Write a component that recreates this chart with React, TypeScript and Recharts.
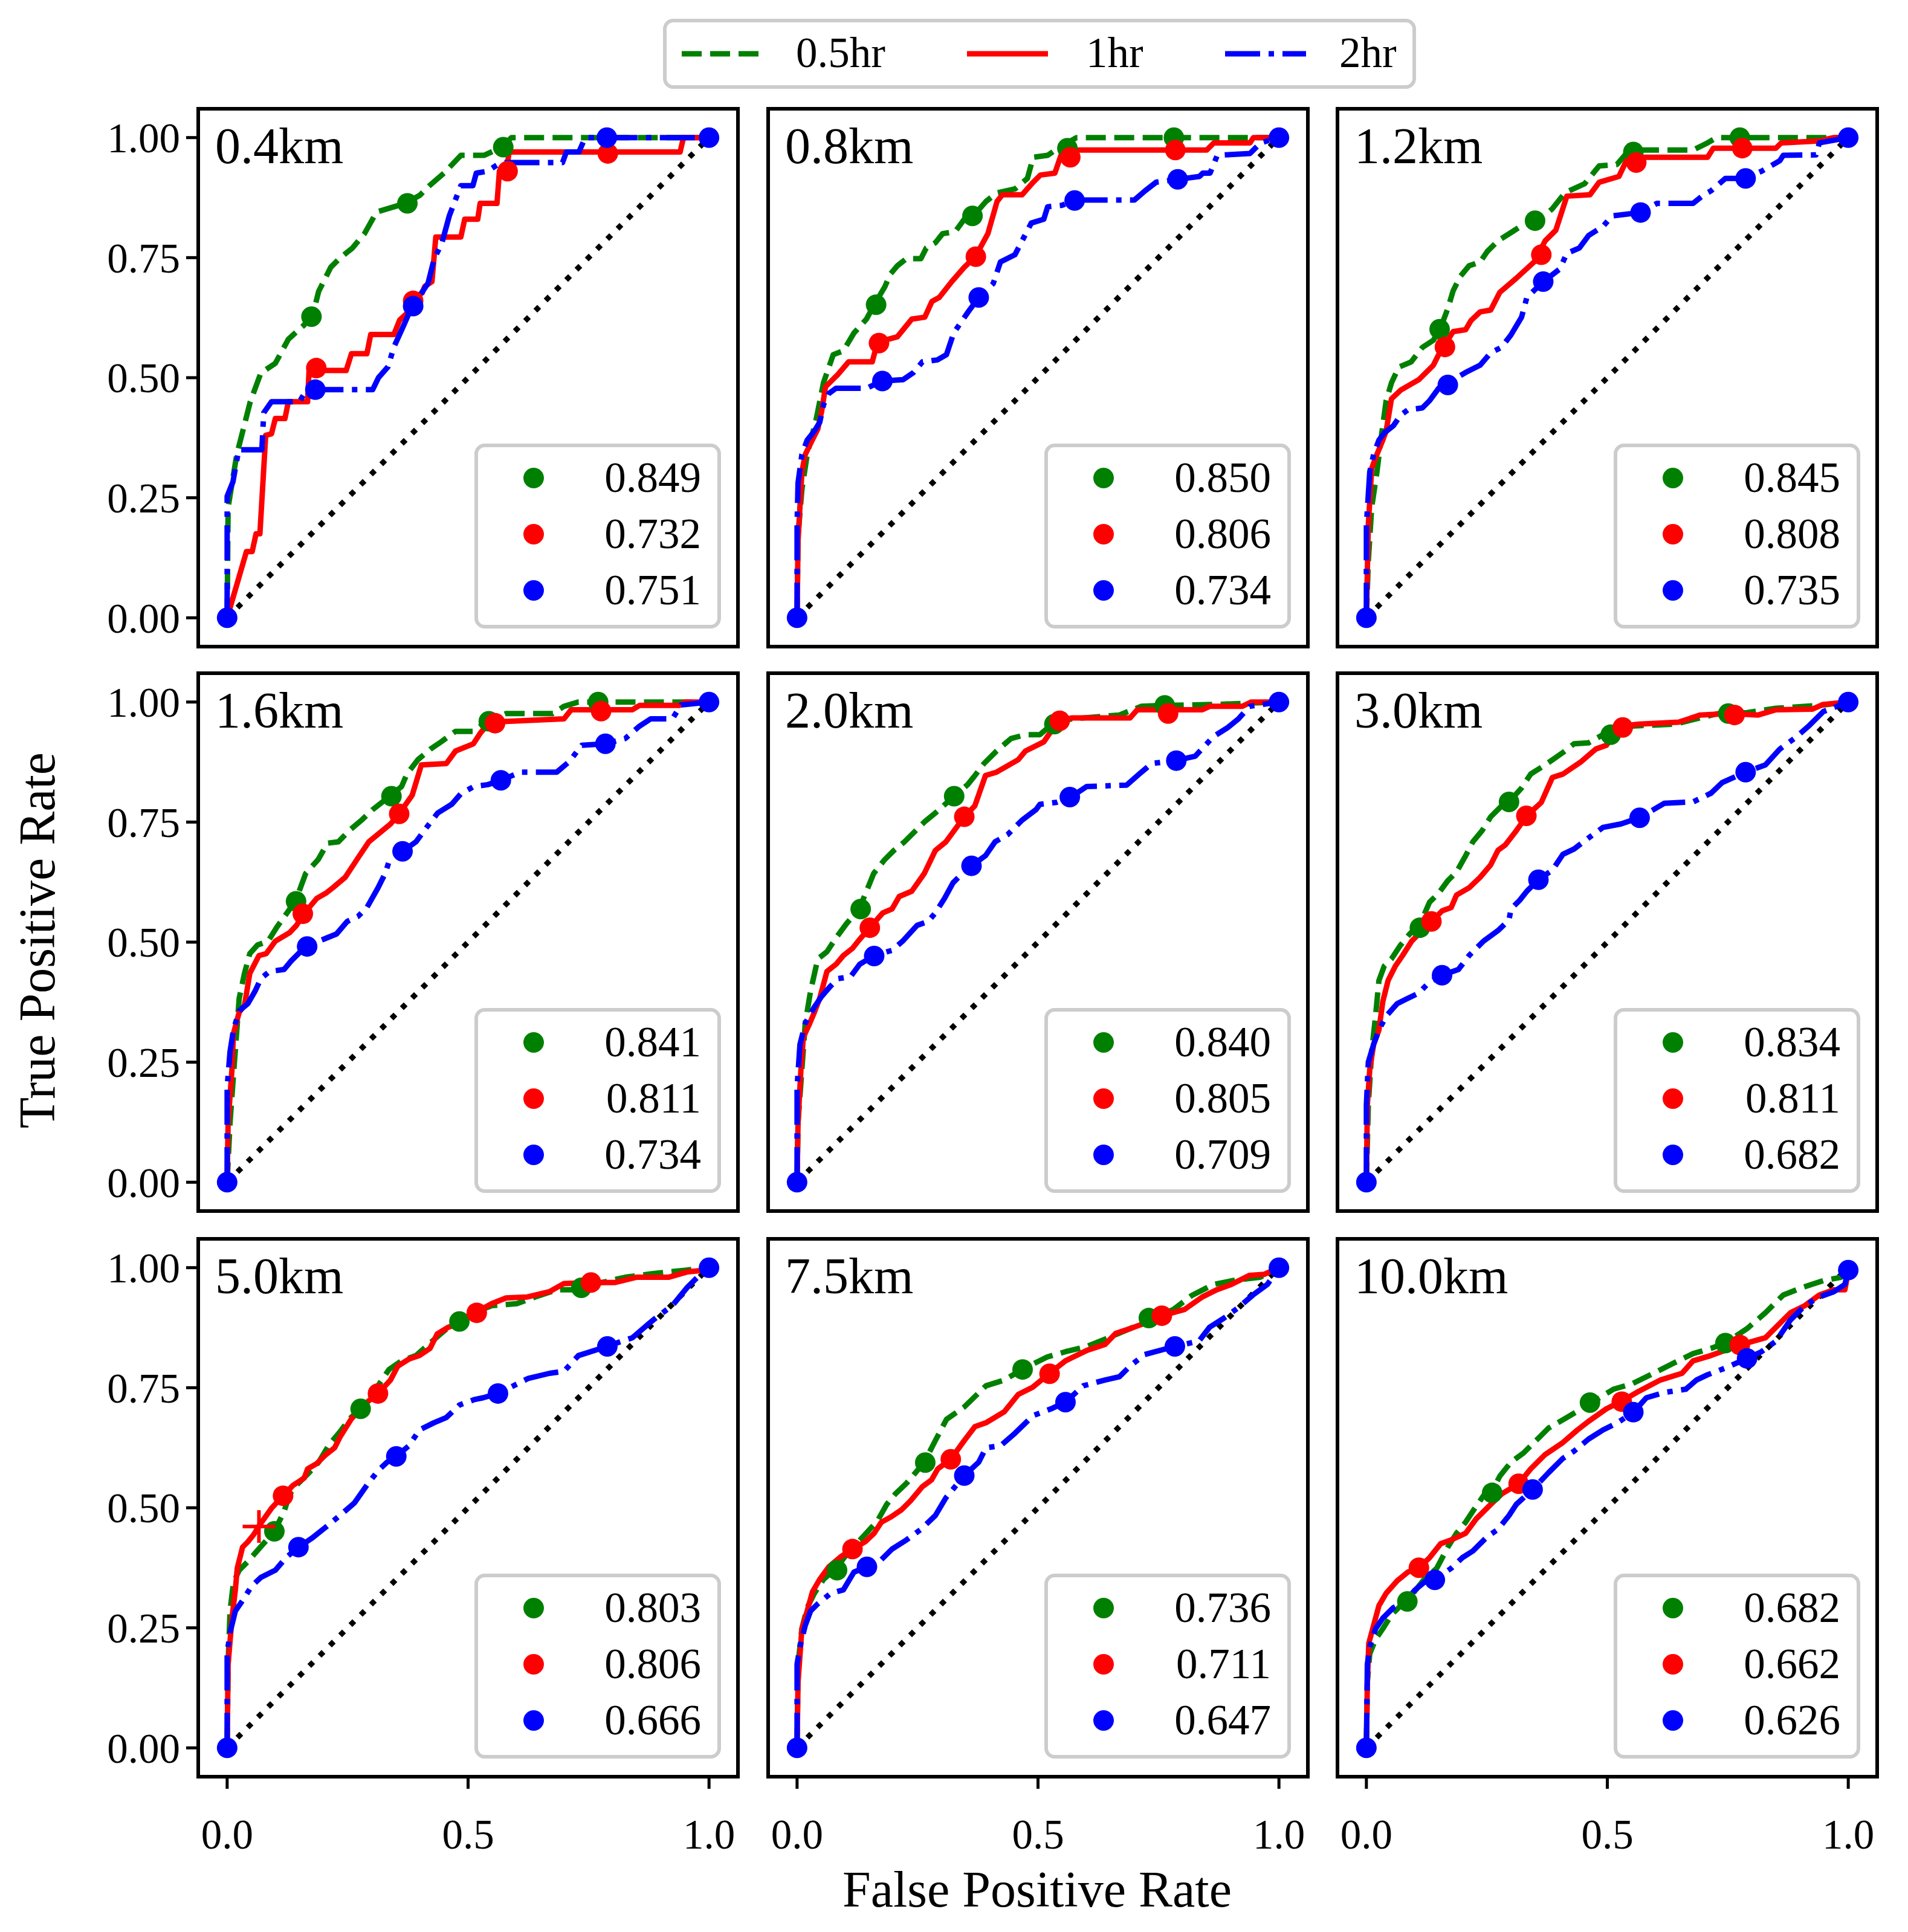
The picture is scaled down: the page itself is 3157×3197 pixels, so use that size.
import { ComposedChart, Line, Scatter, XAxis, YAxis } from 'recharts';

type Pt = [number, number];

// ---- panel labels and AUC values ----
const panelLabels = ['0.4km', '0.8km', '1.2km', '1.6km', '2.0km', '3.0km', '5.0km', '7.5km', '10.0km'];
const auc05hr = [0.849, 0.85, 0.845, 0.841, 0.84, 0.834, 0.803, 0.736, 0.682];
const auc1hr = [0.732, 0.806, 0.808, 0.811, 0.805, 0.811, 0.806, 0.711, 0.662];
const auc2hr = [0.751, 0.734, 0.735, 0.734, 0.709, 0.682, 0.666, 0.647, 0.626];

const xTicks = [0, 0.5, 1];
const yTicks = [0, 0.25, 0.5, 0.75, 1];
const chance: Pt[] = [[0, 0], [1, 1]];

// ---- 0.4km ----
const g04: Pt[] = [[0,0],[0.002,0.23],[0.02,0.34],[0.048,0.45],[0.07,0.51],[0.1,0.53],[0.127,0.58],[0.16,0.61],[0.18,0.64],[0.19,0.68],[0.215,0.73],[0.235,0.75],[0.26,0.77],[0.285,0.8],[0.31,0.845],[0.37,0.863],[0.4,0.88],[0.42,0.9],[0.45,0.926],[0.485,0.963],[0.533,0.963],[0.57,0.98],[0.59,1],[1,1]];
const gDots04: Pt[] = [[0.175,0.627],[0.374,0.863],[0.573,0.98]];
const r04: Pt[] = [[0,0],[0.04,0.138],[0.052,0.138],[0.06,0.175],[0.068,0.175],[0.08,0.38],[0.092,0.383],[0.1,0.415],[0.12,0.415],[0.127,0.45],[0.167,0.45],[0.17,0.515],[0.247,0.515],[0.258,0.55],[0.29,0.55],[0.298,0.59],[0.346,0.59],[0.358,0.62],[0.374,0.635],[0.38,0.659],[0.405,0.677],[0.41,0.69],[0.425,0.7],[0.433,0.793],[0.485,0.793],[0.493,0.83],[0.52,0.83],[0.525,0.863],[0.56,0.863],[0.565,0.93],[0.58,0.93],[0.585,0.97],[0.94,0.97],[0.947,1],[1,1]];
const rDots04: Pt[] = [[0.185,0.52],[0.386,0.66],[0.582,0.93],[0.79,0.967]];
const b04: Pt[] = [[0,0],[0,0.253],[0.012,0.283],[0.024,0.35],[0.072,0.35],[0.076,0.427],[0.092,0.45],[0.15,0.45],[0.165,0.475],[0.302,0.475],[0.314,0.5],[0.334,0.523],[0.346,0.564],[0.366,0.608],[0.382,0.645],[0.397,0.667],[0.417,0.697],[0.43,0.749],[0.445,0.778],[0.461,0.837],[0.485,0.9],[0.51,0.9],[0.517,0.926],[0.54,0.93],[0.568,0.948],[0.696,0.948],[0.704,0.97],[0.73,0.97],[0.743,1],[1,1]];
const bDots04: Pt[] = [[0,0],[0.183,0.475],[0.386,0.649],[0.788,1],[1,1]];

// ---- 0.8km ----
const g08: Pt[] = [[0,0],[0.002,0.17],[0.01,0.267],[0.021,0.34],[0.04,0.415],[0.055,0.49],[0.075,0.548],[0.096,0.556],[0.118,0.593],[0.144,0.622],[0.16,0.652],[0.182,0.689],[0.193,0.715],[0.208,0.733],[0.227,0.748],[0.257,0.748],[0.268,0.77],[0.287,0.781],[0.302,0.8],[0.328,0.804],[0.347,0.83],[0.366,0.837],[0.392,0.867],[0.415,0.885],[0.452,0.893],[0.478,0.915],[0.49,0.959],[0.52,0.963],[0.542,0.978],[0.58,1],[1,1]];
const gDots08: Pt[] = [[0.164,0.652],[0.364,0.837],[0.561,0.978],[0.782,1]];
const r08: Pt[] = [[0,0],[0.002,0.16],[0.01,0.304],[0.017,0.34],[0.028,0.363],[0.043,0.393],[0.051,0.43],[0.059,0.481],[0.074,0.496],[0.085,0.507],[0.107,0.533],[0.156,0.533],[0.167,0.574],[0.208,0.585],[0.238,0.622],[0.265,0.626],[0.28,0.659],[0.295,0.667],[0.321,0.7],[0.347,0.73],[0.37,0.752],[0.396,0.8],[0.415,0.867],[0.426,0.881],[0.467,0.881],[0.49,0.907],[0.505,0.922],[0.535,0.926],[0.55,0.97],[0.565,0.974],[0.85,0.974],[0.865,0.989],[0.94,0.989],[0.947,1],[1,1]];
const rDots08: Pt[] = [[0.17,0.572],[0.371,0.752],[0.567,0.959],[0.785,0.974]];
const b08: Pt[] = [[0,0],[0,0.193],[0.002,0.281],[0.01,0.34],[0.021,0.37],[0.036,0.389],[0.047,0.407],[0.055,0.444],[0.066,0.467],[0.081,0.478],[0.145,0.478],[0.175,0.493],[0.22,0.496],[0.242,0.511],[0.26,0.533],[0.291,0.537],[0.31,0.548],[0.325,0.593],[0.34,0.615],[0.355,0.637],[0.377,0.667],[0.407,0.696],[0.422,0.741],[0.452,0.756],[0.467,0.785],[0.486,0.822],[0.512,0.83],[0.52,0.856],[0.55,0.859],[0.576,0.87],[0.7,0.87],[0.722,0.889],[0.745,0.907],[0.79,0.913],[0.835,0.919],[0.842,0.926],[0.857,0.926],[0.872,0.963],[0.94,0.967],[0.962,0.989],[1,1]];
const bDots08: Pt[] = [[0,0],[0.177,0.493],[0.377,0.667],[0.576,0.869],[0.79,0.913],[1,1]];

// ---- 1.2km ----
const g12: Pt[] = [[0,0],[0.004,0.118],[0.011,0.23],[0.022,0.304],[0.03,0.37],[0.041,0.452],[0.052,0.489],[0.067,0.522],[0.093,0.533],[0.116,0.563],[0.139,0.578],[0.154,0.604],[0.169,0.644],[0.18,0.681],[0.195,0.711],[0.213,0.733],[0.236,0.741],[0.251,0.763],[0.273,0.785],[0.303,0.804],[0.326,0.819],[0.356,0.826],[0.386,0.852],[0.412,0.885],[0.453,0.904],[0.483,0.941],[0.52,0.944],[0.536,0.963],[0.558,0.974],[0.678,0.974],[0.708,0.989],[0.727,1],[1,1]];
const gDots12: Pt[] = [[0.152,0.601],[0.35,0.827],[0.554,0.97],[0.775,1]];
const r12: Pt[] = [[0,0],[0.004,0.193],[0.011,0.311],[0.019,0.333],[0.034,0.37],[0.041,0.389],[0.052,0.456],[0.071,0.474],[0.109,0.496],[0.139,0.526],[0.15,0.548],[0.18,0.596],[0.206,0.6],[0.217,0.619],[0.236,0.637],[0.258,0.641],[0.277,0.678],[0.311,0.707],[0.348,0.741],[0.371,0.785],[0.393,0.807],[0.416,0.878],[0.464,0.881],[0.483,0.907],[0.524,0.919],[0.543,0.959],[0.708,0.959],[0.72,0.978],[0.85,0.978],[0.861,0.989],[0.94,0.993],[0.97,1],[1,1]];
const rDots12: Pt[] = [[0.163,0.564],[0.363,0.756],[0.56,0.948],[0.78,0.978]];
const b12: Pt[] = [[0,0],[0,0.193],[0.007,0.304],[0.015,0.34],[0.026,0.37],[0.037,0.385],[0.056,0.4],[0.071,0.422],[0.086,0.433],[0.116,0.437],[0.131,0.452],[0.15,0.478],[0.169,0.489],[0.206,0.511],[0.236,0.526],[0.258,0.552],[0.28,0.563],[0.3,0.589],[0.322,0.626],[0.333,0.667],[0.367,0.7],[0.401,0.726],[0.416,0.759],[0.442,0.77],[0.461,0.796],[0.491,0.815],[0.51,0.837],[0.569,0.844],[0.603,0.863],[0.678,0.863],[0.7,0.881],[0.715,0.889],[0.745,0.915],[0.787,0.915],[0.82,0.93],[0.858,0.952],[0.865,0.963],[0.933,0.964],[0.94,0.989],[1,1]];
const bDots12: Pt[] = [[0,0],[0.169,0.485],[0.367,0.7],[0.569,0.844],[0.787,0.915],[1,1]];

// ---- 1.6km ----
const g16: Pt[] = [[0,0],[0.006,0.124],[0.014,0.235],[0.025,0.383],[0.036,0.435],[0.047,0.476],[0.063,0.494],[0.085,0.502],[0.103,0.531],[0.13,0.569],[0.144,0.591],[0.163,0.643],[0.189,0.672],[0.208,0.706],[0.231,0.709],[0.253,0.732],[0.279,0.754],[0.302,0.776],[0.335,0.802],[0.362,0.824],[0.373,0.85],[0.396,0.88],[0.422,0.902],[0.444,0.917],[0.474,0.939],[0.511,0.939],[0.541,0.961],[0.579,0.976],[0.676,0.976],[0.699,0.991],[0.729,1],[1,1]];
const gDots16: Pt[] = [[0.143,0.585],[0.341,0.804],[0.543,0.96],[0.77,1]];
const r16: Pt[] = [[0,0],[0.002,0.124],[0.01,0.235],[0.013,0.309],[0.025,0.354],[0.036,0.368],[0.047,0.435],[0.066,0.472],[0.081,0.476],[0.1,0.502],[0.13,0.52],[0.144,0.535],[0.16,0.56],[0.186,0.591],[0.205,0.602],[0.219,0.613],[0.245,0.635],[0.272,0.676],[0.294,0.709],[0.339,0.746],[0.358,0.769],[0.384,0.806],[0.403,0.869],[0.455,0.872],[0.474,0.898],[0.511,0.913],[0.526,0.936],[0.545,0.958],[0.699,0.965],[0.714,0.984],[0.841,0.984],[0.856,0.993],[0.939,0.993],[0.95,1],[1,1]];
const rDots16: Pt[] = [[0.157,0.559],[0.357,0.767],[0.556,0.956],[0.776,0.981]];
const b16: Pt[] = [[0,0],[0,0.198],[0.006,0.272],[0.013,0.317],[0.025,0.357],[0.043,0.372],[0.058,0.398],[0.07,0.424],[0.088,0.439],[0.118,0.443],[0.133,0.461],[0.163,0.491],[0.2,0.506],[0.227,0.517],[0.249,0.543],[0.272,0.554],[0.29,0.572],[0.313,0.613],[0.328,0.643],[0.335,0.665],[0.364,0.689],[0.392,0.709],[0.414,0.739],[0.437,0.769],[0.466,0.787],[0.485,0.809],[0.512,0.824],[0.541,0.828],[0.568,0.837],[0.609,0.854],[0.684,0.854],[0.71,0.876],[0.736,0.91],[0.785,0.913],[0.826,0.924],[0.856,0.95],[0.879,0.965],[0.924,0.965],[0.942,0.994],[1,1]];
const bDots16: Pt[] = [[0,0],[0.166,0.491],[0.364,0.689],[0.568,0.837],[0.785,0.913],[1,1]];

// ---- 2.0km ----
const g20: Pt[] = [[0,0],[0.002,0.124],[0.01,0.235],[0.017,0.331],[0.028,0.398],[0.043,0.465],[0.062,0.48],[0.081,0.509],[0.103,0.539],[0.129,0.569],[0.144,0.606],[0.159,0.643],[0.182,0.672],[0.201,0.691],[0.223,0.709],[0.242,0.728],[0.264,0.75],[0.287,0.769],[0.324,0.802],[0.354,0.828],[0.366,0.843],[0.388,0.872],[0.414,0.898],[0.444,0.924],[0.474,0.932],[0.504,0.932],[0.534,0.958],[0.571,0.965],[0.669,0.973],[0.714,0.991],[0.759,0.993],[0.871,0.995],[1,1]];
const gDots20: Pt[] = [[0.132,0.569],[0.326,0.804],[0.534,0.954],[0.763,0.993]];
const r20: Pt[] = [[0,0],[0.002,0.124],[0.008,0.235],[0.013,0.302],[0.025,0.328],[0.036,0.354],[0.047,0.383],[0.062,0.439],[0.081,0.454],[0.096,0.472],[0.115,0.487],[0.13,0.506],[0.151,0.53],[0.178,0.561],[0.197,0.569],[0.212,0.595],[0.238,0.606],[0.264,0.643],[0.287,0.691],[0.309,0.709],[0.347,0.761],[0.369,0.784],[0.391,0.847],[0.414,0.854],[0.459,0.88],[0.474,0.898],[0.512,0.917],[0.542,0.961],[0.571,0.967],[0.691,0.967],[0.706,0.984],[0.841,0.984],[0.856,0.991],[0.924,0.991],[0.942,1],[1,1]];
const rDots20: Pt[] = [[0.151,0.53],[0.347,0.761],[0.545,0.961],[0.77,0.976]];
const b20: Pt[] = [[0,0],[0,0.198],[0.006,0.287],[0.017,0.331],[0.036,0.365],[0.051,0.387],[0.07,0.409],[0.085,0.424],[0.111,0.428],[0.13,0.454],[0.16,0.472],[0.197,0.483],[0.219,0.502],[0.249,0.535],[0.272,0.543],[0.287,0.561],[0.306,0.591],[0.324,0.624],[0.339,0.639],[0.362,0.659],[0.391,0.68],[0.411,0.709],[0.437,0.724],[0.467,0.754],[0.496,0.776],[0.504,0.787],[0.538,0.791],[0.568,0.802],[0.601,0.824],[0.684,0.827],[0.71,0.85],[0.736,0.872],[0.785,0.878],[0.826,0.887],[0.864,0.928],[0.894,0.947],[0.916,0.965],[0.939,0.991],[1,1]];
const bDots20: Pt[] = [[0,0],[0.16,0.471],[0.362,0.659],[0.566,0.802],[0.787,0.878],[1,1]];

// ---- 3.0km ----
const g30: Pt[] = [[0,0],[0.004,0.161],[0.011,0.272],[0.019,0.346],[0.026,0.42],[0.037,0.45],[0.052,0.465],[0.071,0.494],[0.09,0.517],[0.112,0.539],[0.131,0.583],[0.15,0.602],[0.169,0.628],[0.187,0.646],[0.206,0.68],[0.221,0.709],[0.24,0.732],[0.258,0.761],[0.281,0.784],[0.296,0.792],[0.322,0.821],[0.341,0.85],[0.371,0.869],[0.408,0.895],[0.431,0.913],[0.461,0.915],[0.491,0.932],[0.513,0.943],[0.551,0.95],[0.64,0.954],[0.685,0.965],[0.73,0.976],[0.79,0.978],[0.85,0.987],[0.94,0.993],[1,1]];
const gDots30: Pt[] = [[0.111,0.53],[0.296,0.792],[0.507,0.932],[0.751,0.976]];
const r30: Pt[] = [[0,0],[0.002,0.161],[0.007,0.235],[0.015,0.287],[0.026,0.317],[0.034,0.376],[0.045,0.42],[0.06,0.45],[0.075,0.472],[0.094,0.502],[0.116,0.524],[0.135,0.543],[0.157,0.565],[0.176,0.572],[0.187,0.598],[0.213,0.613],[0.236,0.635],[0.258,0.661],[0.273,0.691],[0.288,0.702],[0.311,0.732],[0.333,0.763],[0.363,0.791],[0.386,0.843],[0.408,0.85],[0.446,0.876],[0.476,0.902],[0.498,0.91],[0.528,0.95],[0.566,0.954],[0.648,0.958],[0.693,0.973],[0.753,0.976],[0.813,0.973],[0.85,0.984],[0.925,0.985],[0.948,0.995],[1,1]];
const rDots30: Pt[] = [[0.135,0.543],[0.332,0.763],[0.532,0.947],[0.764,0.973]];
const b30: Pt[] = [[0,0],[0,0.161],[0.004,0.25],[0.015,0.287],[0.026,0.317],[0.041,0.346],[0.064,0.372],[0.086,0.383],[0.109,0.394],[0.131,0.417],[0.157,0.431],[0.191,0.443],[0.213,0.472],[0.243,0.502],[0.273,0.524],[0.296,0.546],[0.3,0.569],[0.318,0.587],[0.333,0.606],[0.357,0.63],[0.386,0.65],[0.408,0.683],[0.431,0.694],[0.461,0.717],[0.491,0.739],[0.528,0.746],[0.566,0.759],[0.596,0.776],[0.618,0.789],[0.678,0.792],[0.715,0.81],[0.738,0.832],[0.787,0.854],[0.828,0.869],[0.858,0.902],[0.888,0.924],[0.918,0.95],[0.948,0.98],[1,1]];
const bDots30: Pt[] = [[0,0],[0.157,0.431],[0.357,0.63],[0.567,0.759],[0.787,0.854],[1,1]];

// ---- 5.0km ----
const g50: Pt[] = [[0,0],[0.002,0.174],[0.006,0.285],[0.013,0.344],[0.025,0.37],[0.043,0.388],[0.062,0.41],[0.085,0.436],[0.1,0.455],[0.118,0.492],[0.13,0.529],[0.144,0.547],[0.167,0.57],[0.19,0.595],[0.212,0.632],[0.234,0.658],[0.253,0.684],[0.276,0.706],[0.294,0.725],[0.313,0.754],[0.336,0.788],[0.362,0.806],[0.392,0.817],[0.421,0.843],[0.451,0.869],[0.482,0.888],[0.512,0.906],[0.549,0.921],[0.601,0.925],[0.639,0.939],[0.684,0.954],[0.733,0.954],[0.759,0.965],[0.826,0.98],[0.879,0.987],[0.954,0.995],[1,1]];
const gDots50: Pt[] = [[0.098,0.451],[0.277,0.706],[0.482,0.888],[0.735,0.958]];
const r50: Pt[] = [[0,0],[0.002,0.174],[0.01,0.27],[0.017,0.329],[0.021,0.374],[0.032,0.418],[0.043,0.429],[0.055,0.444],[0.066,0.462],[0.092,0.499],[0.116,0.525],[0.137,0.547],[0.16,0.562],[0.167,0.581],[0.186,0.592],[0.204,0.61],[0.223,0.625],[0.234,0.647],[0.257,0.684],[0.283,0.714],[0.313,0.738],[0.339,0.766],[0.354,0.795],[0.378,0.81],[0.399,0.817],[0.421,0.832],[0.436,0.862],[0.459,0.876],[0.482,0.884],[0.518,0.908],[0.549,0.925],[0.579,0.937],[0.623,0.939],[0.669,0.95],[0.699,0.967],[0.755,0.969],[0.804,0.969],[0.849,0.98],[0.916,0.98],[0.954,0.991],[0.983,0.994],[1,1]];
const rDots50: Pt[] = [[0.116,0.525],[0.313,0.738],[0.518,0.906],[0.755,0.969]];
const rCross50: Pt[] = [[0.066,0.461]];
const b50: Pt[] = [[0,0],[0,0.196],[0.006,0.24],[0.017,0.285],[0.032,0.307],[0.051,0.337],[0.07,0.355],[0.1,0.37],[0.122,0.396],[0.148,0.418],[0.175,0.436],[0.204,0.459],[0.234,0.484],[0.264,0.51],[0.29,0.547],[0.313,0.577],[0.332,0.595],[0.351,0.607],[0.377,0.629],[0.399,0.662],[0.429,0.677],[0.455,0.688],[0.482,0.714],[0.512,0.725],[0.531,0.729],[0.562,0.738],[0.594,0.754],[0.624,0.769],[0.669,0.78],[0.699,0.784],[0.729,0.817],[0.789,0.836],[0.819,0.847],[0.841,0.854],[0.871,0.88],[0.894,0.899],[0.924,0.921],[0.954,0.958],[0.976,0.98],[1,1]];
const bDots50: Pt[] = [[0,0],[0.148,0.418],[0.351,0.607],[0.562,0.738],[0.789,0.836],[1,1]];

// ---- 7.5km ----
const g75: Pt[] = [[0,0],[0.002,0.174],[0.01,0.248],[0.021,0.292],[0.036,0.322],[0.055,0.351],[0.081,0.374],[0.103,0.403],[0.137,0.44],[0.167,0.473],[0.186,0.507],[0.204,0.529],[0.227,0.551],[0.249,0.577],[0.264,0.595],[0.287,0.64],[0.31,0.684],[0.347,0.71],[0.392,0.754],[0.43,0.766],[0.467,0.788],[0.519,0.814],[0.557,0.825],[0.602,0.836],[0.646,0.854],[0.691,0.873],[0.728,0.891],[0.781,0.913],[0.819,0.942],[0.864,0.965],[0.909,0.974],[0.961,0.98],[1,1]];
const gDots75: Pt[] = [[0.083,0.37],[0.266,0.594],[0.468,0.788],[0.73,0.895]];
const r75: Pt[] = [[0,0],[0.002,0.137],[0.01,0.248],[0.021,0.285],[0.032,0.325],[0.047,0.351],[0.066,0.377],[0.092,0.399],[0.115,0.414],[0.141,0.429],[0.16,0.447],[0.175,0.47],[0.195,0.481],[0.217,0.496],[0.235,0.514],[0.26,0.544],[0.279,0.558],[0.292,0.581],[0.319,0.601],[0.347,0.64],[0.369,0.669],[0.392,0.677],[0.43,0.7],[0.459,0.736],[0.489,0.751],[0.524,0.78],[0.557,0.806],[0.602,0.828],[0.639,0.84],[0.661,0.863],[0.691,0.873],[0.721,0.884],[0.757,0.9],[0.804,0.913],[0.841,0.939],[0.871,0.954],[0.901,0.965],[0.939,0.984],[0.969,0.986],[1,1]];
const rDots75: Pt[] = [[0.115,0.414],[0.319,0.601],[0.524,0.779],[0.757,0.9]];
const b75: Pt[] = [[0,0],[0,0.174],[0.006,0.211],[0.017,0.255],[0.028,0.285],[0.043,0.3],[0.07,0.322],[0.096,0.329],[0.118,0.366],[0.145,0.377],[0.175,0.392],[0.197,0.414],[0.227,0.433],[0.257,0.455],[0.287,0.484],[0.309,0.521],[0.347,0.567],[0.377,0.595],[0.392,0.625],[0.422,0.629],[0.452,0.655],[0.49,0.692],[0.527,0.706],[0.557,0.72],[0.594,0.754],[0.639,0.766],[0.669,0.773],[0.691,0.795],[0.721,0.819],[0.784,0.836],[0.834,0.847],[0.856,0.876],[0.886,0.895],[0.916,0.917],[0.946,0.943],[0.976,0.965],[1,1]];
const bDots75: Pt[] = [[0,0],[0.145,0.377],[0.347,0.567],[0.557,0.72],[0.784,0.836],[1,1]];

// ---- 10.0km ----
const g100: Pt[] = [[0,0],[0.002,0.137],[0.007,0.196],[0.019,0.226],[0.034,0.248],[0.052,0.277],[0.075,0.3],[0.097,0.322],[0.12,0.351],[0.146,0.374],[0.169,0.418],[0.187,0.447],[0.206,0.47],[0.225,0.499],[0.243,0.525],[0.258,0.529],[0.277,0.566],[0.3,0.595],[0.326,0.614],[0.348,0.636],[0.378,0.666],[0.416,0.688],[0.464,0.717],[0.513,0.747],[0.551,0.758],[0.596,0.78],[0.633,0.799],[0.678,0.821],[0.715,0.832],[0.745,0.843],[0.79,0.873],[0.828,0.906],[0.865,0.943],[0.903,0.958],[0.948,0.973],[0.985,0.98],[1,0.995]];
const gDots100: Pt[] = [[0.085,0.305],[0.261,0.531],[0.464,0.719],[0.745,0.843]];
const r100: Pt[] = [[0,0],[0.002,0.137],[0.005,0.218],[0.015,0.255],[0.026,0.296],[0.041,0.322],[0.064,0.348],[0.086,0.366],[0.109,0.375],[0.131,0.396],[0.154,0.425],[0.176,0.433],[0.206,0.447],[0.228,0.477],[0.258,0.507],[0.281,0.529],[0.316,0.55],[0.341,0.581],[0.37,0.61],[0.408,0.636],[0.438,0.662],[0.461,0.68],[0.498,0.706],[0.528,0.721],[0.566,0.743],[0.61,0.766],[0.655,0.78],[0.678,0.806],[0.715,0.817],[0.775,0.839],[0.828,0.854],[0.85,0.876],[0.88,0.906],[0.91,0.921],[0.94,0.943],[0.97,0.954],[0.993,0.954],[0.999,0.987],[1,0.995]];
const rDots100: Pt[] = [[0.109,0.375],[0.316,0.55],[0.53,0.721],[0.775,0.839]];
const b100: Pt[] = [[0,0],[0.002,0.174],[0.007,0.211],[0.019,0.248],[0.034,0.27],[0.056,0.292],[0.079,0.303],[0.101,0.329],[0.124,0.348],[0.142,0.351],[0.176,0.374],[0.199,0.396],[0.221,0.41],[0.251,0.44],[0.273,0.455],[0.296,0.484],[0.311,0.507],[0.345,0.538],[0.378,0.573],[0.408,0.603],[0.431,0.618],[0.461,0.643],[0.491,0.662],[0.521,0.677],[0.554,0.699],[0.581,0.729],[0.618,0.74],[0.663,0.747],[0.685,0.766],[0.708,0.777],[0.745,0.791],[0.79,0.811],[0.82,0.825],[0.85,0.847],[0.88,0.891],[0.91,0.921],[0.94,0.939],[0.97,0.95],[0.993,0.965],[1,0.995]];
const bDots100: Pt[] = [[0,0],[0.142,0.35],[0.345,0.538],[0.554,0.699],[0.79,0.811],[1,0.995]];

const curves05hr = [g04, g08, g12, g16, g20, g30, g50, g75, g100];
const dots05hr = [gDots04, gDots08, gDots12, gDots16, gDots20, gDots30, gDots50, gDots75, gDots100];
const curves1hr = [r04, r08, r12, r16, r20, r30, r50, r75, r100];
const dots1hr = [rDots04, rDots08, rDots12, rDots16, rDots20, rDots30, rDots50, rDots75, rDots100];
const curves2hr = [b04, b08, b12, b16, b20, b30, b50, b75, b100];
const dots2hr = [bDots04, bDots08, bDots12, bDots16, bDots20, bDots30, bDots50, bDots75, bDots100];

// ---- styling / layout ----
const FONT = '"Liberation Serif", "DejaVu Serif", serif';
const GREEN = '#008000';
const RED = '#ff0000';
const BLUE = '#0000ff';
const LW = 9;
const DASH = '33 14';
const DASHDOT = '58 14 9 14';
const DOTTED = '9 15';
const DOT_R = 17;

const FW = 893;
const FH = 890;
const colLeft = [328, 1271, 2213];
const rowTop = [180, 1114, 2050];
const PAD = 6;
const Y_AXIS_W = 200;
const X_AXIS_H = 140;

const xy = (pts: Pt[]) => pts.map(([x, y]) => ({ x, y }));

const dotShape = (color: string) => (p: any) => <circle cx={p.cx} cy={p.cy} r={DOT_R} fill={color} />;
const plusShape = (p: any) => (
  <g stroke={RED} strokeWidth={6}>
    <line x1={p.cx - 27} y1={p.cy} x2={p.cx + 27} y2={p.cy} />
    <line x1={p.cx} y1={p.cy - 27} x2={p.cx} y2={p.cy + 27} />
  </g>
);

function Panel({ idx }: { idx: number }) {
  const row = Math.floor(idx / 3);
  const col = idx % 3;
  const showY = col === 0;
  const showX = row === 2;
  const yw = showY ? Y_AXIS_W : 0;
  const xh = showX ? X_AXIS_H : 0;
  const width = FW + yw + PAD * 2;
  const height = FH + xh + PAD * 2;
  const tickStyle = { fill: '#000', fontSize: 69, fontFamily: FONT };

  return (
    <div style={{ position: 'absolute', left: colLeft[col] - yw - PAD, top: rowTop[row] - PAD }}>
      <ComposedChart width={width} height={height} margin={{ top: PAD, right: PAD, bottom: PAD, left: PAD }}>
        <XAxis
          type="number"
          dataKey="x"
          domain={[-0.06, 1.06]}
          allowDataOverflow
          ticks={xTicks}
          interval={0}
          hide={!showX}
          height={X_AXIS_H}
          axisLine={false}
          tickSize={20}
          tickMargin={50}
          tickLine={{ stroke: '#000', strokeWidth: 5 }}
          tick={tickStyle}
          tickFormatter={(v: number) => v.toFixed(1)}
        />
        <YAxis
          type="number"
          dataKey="y"
          domain={[-0.06, 1.06]}
          allowDataOverflow
          ticks={yTicks}
          interval={0}
          hide={!showY}
          width={Y_AXIS_W}
          axisLine={false}
          tickSize={20}
          tickMargin={10}
          tickLine={{ stroke: '#000', strokeWidth: 5 }}
          tick={tickStyle}
          tickFormatter={(v: number) => v.toFixed(2)}
        />
        <Line data={xy(chance)} dataKey="y" stroke="#000" strokeWidth={LW} strokeDasharray={DOTTED} dot={false} isAnimationActive={false} />
        <Line data={xy(curves05hr[idx])} dataKey="y" stroke={GREEN} strokeWidth={LW} strokeDasharray={DASH} strokeLinejoin="round" dot={false} isAnimationActive={false} />
        <Scatter data={xy(dots05hr[idx])} dataKey="y" fill={GREEN} shape={dotShape(GREEN)} isAnimationActive={false} />
        <Line data={xy(curves1hr[idx])} dataKey="y" stroke={RED} strokeWidth={LW} strokeLinejoin="round" dot={false} isAnimationActive={false} />
        <Scatter data={xy(dots1hr[idx])} dataKey="y" fill={RED} shape={dotShape(RED)} isAnimationActive={false} />
        {idx === 6 && <Scatter data={xy(rCross50)} dataKey="y" fill={RED} shape={plusShape} isAnimationActive={false} />}
        <Line data={xy(curves2hr[idx])} dataKey="y" stroke={BLUE} strokeWidth={LW} strokeDasharray={DASHDOT} strokeLinejoin="round" dot={false} isAnimationActive={false} />
        <Scatter data={xy(dots2hr[idx])} dataKey="y" fill={BLUE} shape={dotShape(BLUE)} isAnimationActive={false} />
      </ComposedChart>
    </div>
  );
}

function PanelDecor({ idx }: { idx: number }) {
  const row = Math.floor(idx / 3);
  const col = idx % 3;
  const L = colLeft[col];
  const T = rowTop[row];
  const bw = 402;
  const bh = 300;
  const bx = L + FW - 31 - bw;
  const by = T + FH - 33 - bh;
  const rows = [
    { c: GREEN, v: auc05hr[idx] },
    { c: RED, v: auc1hr[idx] },
    { c: BLUE, v: auc2hr[idx] },
  ];
  return (
    <g>
      <rect x={L} y={T} width={FW} height={FH} fill="none" stroke="#000" strokeWidth={6} />
      <text x={L + 28} y={T + 90} fontSize={84}>{panelLabels[idx]}</text>
      <rect x={bx} y={by} width={bw} height={bh} rx={14} fill="rgba(255,255,255,0.8)" stroke="#cccccc" strokeWidth={6} />
      {rows.map((r, i) => (
        <g key={i}>
          <circle cx={bx + 95} cy={by + 54 + i * 93} r={DOT_R} fill={r.c} />
          <text x={bx + bw - 30} y={by + 54 + i * 93 + 23} fontSize={71} textAnchor="end">{r.v.toFixed(3)}</text>
        </g>
      ))}
    </g>
  );
}

export default function App() {
  const idxs = [0, 1, 2, 3, 4, 5, 6, 7, 8];
  return (
    <div style={{ position: 'absolute', left: 0, top: 0, width: 3157, height: 3197, background: '#fff', fontFamily: FONT }}>
      {idxs.map((i) => <Panel key={i} idx={i} />)}
      <svg width={3157} height={3197} style={{ position: 'absolute', left: 0, top: 0, pointerEvents: 'none' }} fontFamily={FONT} fill="#000">
        {idxs.map((i) => <PanelDecor key={i} idx={i} />)}
        {/* top legend */}
        <rect x={1100} y={34} width={1240} height={110} rx={14} fill="#fff" stroke="#cccccc" strokeWidth={6} />
        <line x1={1128} y1={89} x2={1262} y2={89} stroke={GREEN} strokeWidth={LW} strokeDasharray={DASH} />
        <text x={1317} y={111} fontSize={71}>0.5hr</text>
        <line x1={1600} y1={89} x2={1734} y2={89} stroke={RED} strokeWidth={LW} />
        <text x={1797} y={111} fontSize={71}>1hr</text>
        <line x1={2027} y1={89} x2={2161} y2={89} stroke={BLUE} strokeWidth={LW} strokeDasharray={DASHDOT} />
        <text x={2216} y={111} fontSize={71}>2hr</text>
        {/* axis titles */}
        <text x={1716} y={3155} fontSize={84} textAnchor="middle">False Positive Rate</text>
        <text transform="translate(90,1556) rotate(-90)" fontSize={84} textAnchor="middle">True Positive Rate</text>
      </svg>
    </div>
  );
}
